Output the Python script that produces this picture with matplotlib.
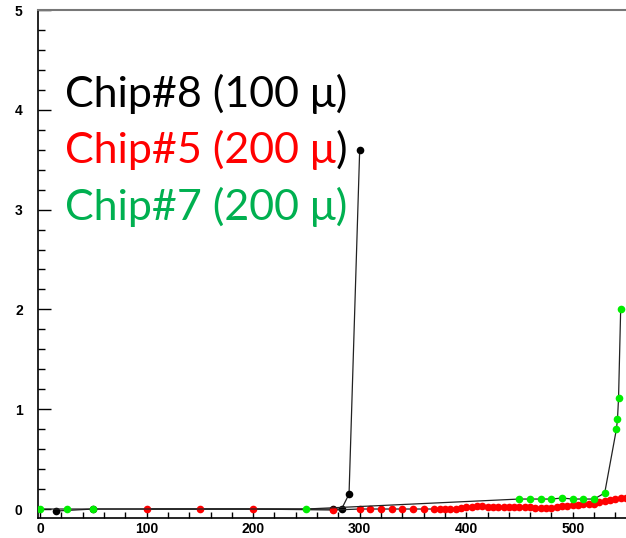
import numpy as np
import matplotlib
matplotlib.use("Agg")
import matplotlib.pyplot as plt
from matplotlib.ticker import MultipleLocator

# Chip#8 (100 u)
chip8_x = [15, 50, 275, 283, 290, 300]
chip8_y = [-0.02, 0.0, 0.0, 0.0, 0.15, 3.6]

# Chip#5 (200 u)
chip5_x = [100, 150, 200, 275, 300, 310, 320, 330, 340, 350, 360,
           370, 375, 380, 385, 390, 395, 400, 405, 410, 415, 420, 425,
           430, 435, 440, 445, 450, 455, 460, 465, 470, 475, 480, 485,
           490, 495, 500, 505, 510, 515, 520, 525, 530, 535, 540, 545, 550]
chip5_y = [0.0, 0.0, 0.0, -0.01, 0.0, 0.0, 0.0, 0.0, 0.0, 0.0, 0.0,
           0.0, 0.0, 0.0, 0.0, 0.0, 0.01, 0.02, 0.02, 0.03, 0.03, 0.02, 0.02,
           0.02, 0.02, 0.02, 0.02, 0.02, 0.02, 0.02, 0.01, 0.01, 0.01, 0.01, 0.02,
           0.03, 0.03, 0.04, 0.04, 0.05, 0.05, 0.05, 0.07, 0.08, 0.09, 0.10, 0.11, 0.11]

# Chip#7 (200 u)
chip7_x = [0, 25, 50, 250, 450, 460, 470, 480, 490, 500, 510, 520, 530,
           541, 542, 543, 545]
chip7_y = [0.0, 0.0, 0.0, 0.0, 0.10, 0.10, 0.10, 0.10, 0.11, 0.10, 0.10, 0.10, 0.16,
           0.8, 0.9, 1.11, 2.0]

labels = ["Chip#8 (100 μ)", "Chip#5 (200 μ", "Chip#7 (200 μ)"]
label_colors = ["black", "#ff0000", "#00b050"]

W, H = 626, 538
fig = plt.figure(figsize=(W / 100, H / 100), dpi=100)
ax = fig.add_axes([38 / W, (H - 518) / H, (W - 38) / W, (518 - 10) / H])

line_kw = dict(color="#222222", lw=0.9, marker="o", ms=5.5, mec="none")
ax.plot(chip8_x, chip8_y, mfc="black", zorder=3, **line_kw)
ax.plot(chip5_x, chip5_y, mfc="#ff0000", zorder=4, **line_kw)
ax.plot(chip7_x, chip7_y, mfc="#00ee00", zorder=5, **line_kw)

ax.set_xlim(-2, 550)
ax.set_ylim(-0.09, 5)

ax.xaxis.set_major_locator(MultipleLocator(100))
ax.xaxis.set_minor_locator(MultipleLocator(20))
ax.yaxis.set_major_locator(MultipleLocator(1))
ax.yaxis.set_minor_locator(MultipleLocator(0.2))

ax.tick_params(axis="y", which="major", direction="in", length=9, width=1, pad=11)
ax.tick_params(axis="y", which="minor", direction="in", length=5, width=1)
ax.tick_params(axis="x", which="both", direction="in", length=4.5, width=1, pad=3)
for lab in ax.get_xticklabels() + ax.get_yticklabels():
    lab.set_fontfamily("Liberation Sans")
    lab.set_fontweight("bold")
    lab.set_fontsize(10)

ax.spines["right"].set_visible(False)
ax.spines["top"].set_color("#777777")
ax.spines["top"].set_linewidth(1.5)
ax.spines["left"].set_linewidth(1.2)
ax.spines["bottom"].set_linewidth(1.2)

# legend text block
baselines = [107, 163, 220]
font = dict(family="Lato", size=31)
texts = []
for lab, col, yb in zip(labels, label_colors, baselines):
    t = fig.text(65 / W, (H - yb) / H, lab, color=col, va="baseline", ha="left", **font)
    texts.append(t)

fig.canvas.draw()
bb = texts[1].get_window_extent()
fig.text(bb.x1 / W, (H - baselines[1]) / H, ")", color="black",
         va="baseline", ha="left", **font)

fig.savefig("out.png", dpi=100)
